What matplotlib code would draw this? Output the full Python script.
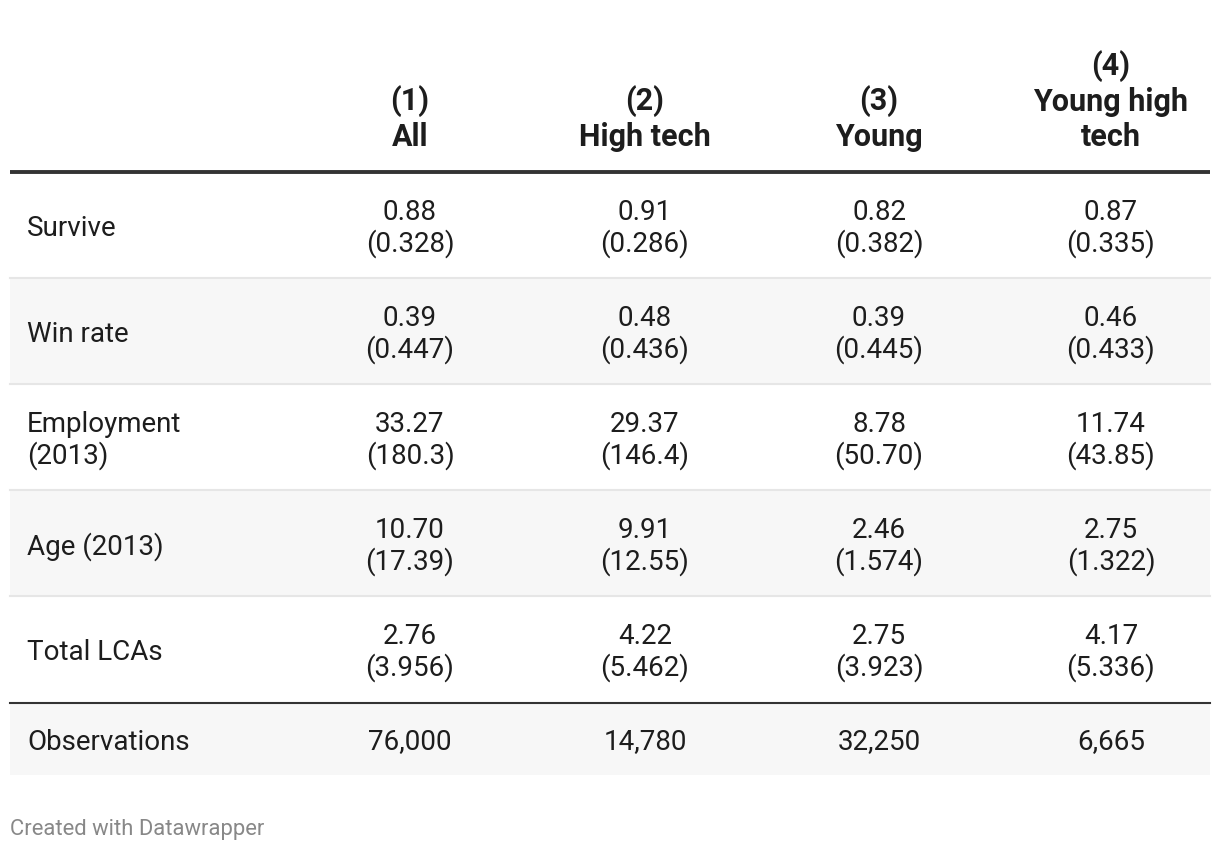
"""
Summary statistics table (Datawrapper style) redrawn with matplotlib.
"""

import matplotlib.pyplot as plt
from matplotlib.patches import Rectangle

# ============================================================
# Data
# ============================================================

col_numbers = ["(1)", "(2)", "(3)", "(4)"]
col_names = ["All", "High tech", "Young", "Young high\ntech"]

row_labels = ["Survive", "Win rate", "Employment\n(2013)", "Age (2013)", "Total LCAs"]

means = [
    ["0.88", "0.91", "0.82", "0.87"],
    ["0.39", "0.48", "0.39", "0.46"],
    ["33.27", "29.37", "8.78", "11.74"],
    ["10.70", "9.91", "2.46", "2.75"],
    ["2.76", "4.22", "2.75", "4.17"],
]
std_devs = [
    ["0.328", "0.286", "0.382", "0.335"],
    ["0.447", "0.436", "0.445", "0.433"],
    ["180.3", "146.4", "50.70", "43.85"],
    ["17.39", "12.55", "1.574", "1.322"],
    ["3.956", "5.462", "3.923", "5.336"],
]

obs_label = "Observations"
observations = ["76,000", "14,780", "32,250", "6,665"]

# ============================================================
# Layout (pixels)
# ============================================================

W, H = 1220, 852
left, right = 10, 1210
label_x = 27
col_x = [410, 645, 879, 1111]
header_line_y = 172
row_h = 106
obs_h = 72

text_color = "#1d1d1d"
stripe = "#f7f7f7"
sep_color = "#e6e6e6"
dark_line = "#333333"

plt.rcParams["font.family"] = ["Roboto", "DejaVu Sans"]

fig = plt.figure(figsize=(W / 100, H / 100), dpi=100)
ax = fig.add_axes([0, 0, 1, 1])
ax.set_xlim(0, W)
ax.set_ylim(H, 0)
ax.axis("off")

# header
for x, num, name in zip(col_x, col_numbers, col_names):
    ax.text(x, 152, f"{num}\n{name}", ha="center", va="bottom",
            fontsize=22, fontweight="bold", color=text_color,
            linespacing=1.2, multialignment="center")

# rows
for i, label in enumerate(row_labels):
    top = header_line_y + i * row_h
    if i % 2 == 1:
        ax.add_patch(Rectangle((left, top), right - left, row_h,
                               facecolor=stripe, edgecolor="none", zorder=0))
    if i > 0:
        ax.plot([left, right], [top, top], color=sep_color, lw=1.5, zorder=1)
    mid = top + row_h / 2 + 3.5
    ax.text(label_x, mid, label, ha="left", va="center", fontsize=20,
            color=text_color, linespacing=1.18)
    for j, x in enumerate(col_x):
        ax.text(x, mid, f"{means[i][j]}\n({std_devs[i][j]})", ha="center",
                va="center", fontsize=20, color=text_color, linespacing=1.18,
                multialignment="center")

# observations row
obs_top = header_line_y + len(row_labels) * row_h + 1
ax.add_patch(Rectangle((left, obs_top), right - left, obs_h,
                       facecolor=stripe, edgecolor="none", zorder=0))
ax.plot([left, right], [obs_top, obs_top], color=dark_line, lw=1.5, zorder=2)
obs_mid = obs_top + obs_h / 2 + 3
ax.text(label_x, obs_mid, obs_label, ha="left", va="center", fontsize=20,
        color=text_color)
for x, val in zip(col_x, observations):
    ax.text(x, obs_mid, val, ha="center", va="center", fontsize=20,
            color=text_color)

# thick header rule
ax.plot([left, right], [header_line_y, header_line_y], color=dark_line,
        lw=2.8, solid_capstyle="butt", zorder=3)

# footer
ax.text(10, 829, "Created with Datawrapper", ha="left", va="center",
        fontsize=15.8, color="#888888")

fig.savefig("out.png", dpi=100)
